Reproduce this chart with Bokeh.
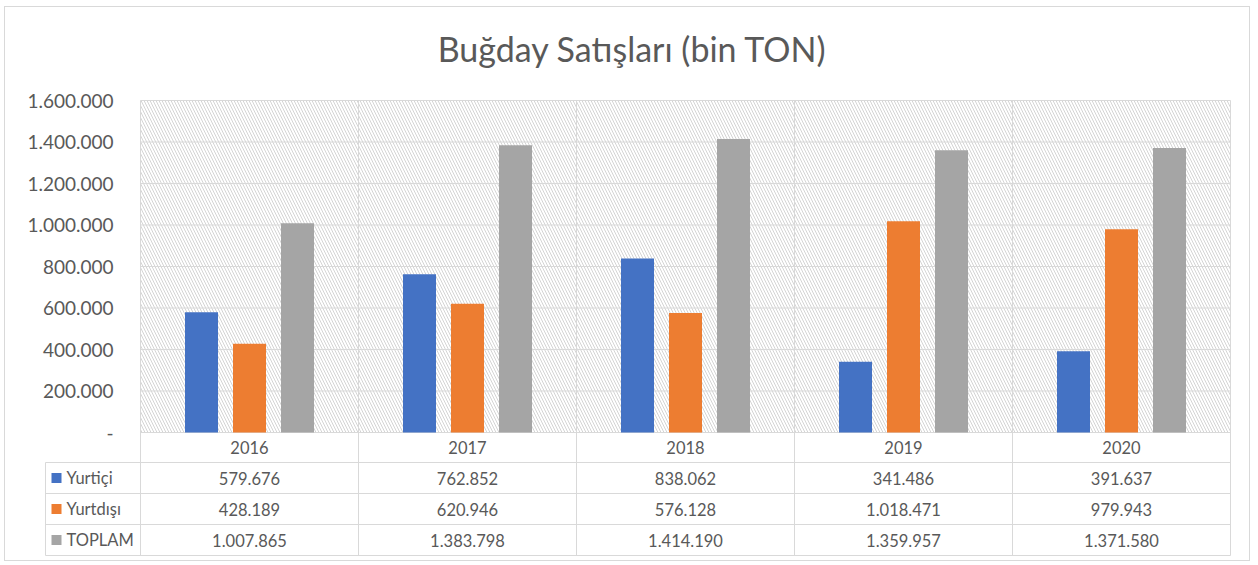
from bokeh.plotting import figure
from bokeh.models import Range1d, FixedTicker, BoxAnnotation
from bokeh.embed import file_html
from bokeh.resources import INLINE
from bokeh.core.properties import value

# ---------------- data ----------------
title_text = "Buğday Satışları (bin TON)"
years = ["2016", "2017", "2018", "2019", "2020"]
series_names = ["Yurtiçi", "Yurtdışı", "TOPLAM"]
yurtici = [579676, 762852, 838062, 341486, 391637]
yurtdisi = [428189, 620946, 576128, 1018471, 979943]
toplam = [1007865, 1383798, 1414190, 1359957, 1371580]
series_colors = ["#4472C4", "#ED7D31", "#A5A5A5"]
y_ticks = [0, 200000, 400000, 600000, 800000, 1000000, 1200000, 1400000, 1600000]


def tr(v):
    return f"{v:,}".replace(",", ".")


# ---------------- style / geometry (pixels) ----------------
FONT = "Lato"
TXT = "#595959"
LINE = "#d9d9d9"
PX = 218.0                    # pixels per category
PLOT_H = 332.0                # pixels for 0 .. 1.600.000
YPX = y_ticks[-1] / PLOT_H    # data units per pixel
TOP_PAD = 93                  # pixels above the 1.600.000 line (title area)
ROW_EDGES = [30, 61, 92, 123]  # table row edges, pixels below the zero line
BOT_PAD = 125                 # frame bottom, pixels below the zero line
LEFT_COL = 95                 # width of the table's label column, pixels
TABLE_FS = "16.5px"
n = len(years)
centers = [i + 0.5 for i in range(n)]
ymax = y_ticks[-1]

p = figure(width=1246, height=555,
           x_range=Range1d(-(LEFT_COL + 1) / PX, n + 1 / PX),
           y_range=Range1d(-BOT_PAD * YPX, ymax + TOP_PAD * YPX),
           output_backend="svg", toolbar_location=None, x_axis_location=None,
           min_border_left=39, min_border_right=20, min_border_top=0, min_border_bottom=5,
           styles={"border": "1px solid #d9d9d9", "margin-left": "4px", "margin-top": "6px"})
p.outline_line_color = None
p.background_fill_color = "white"
p.border_fill_color = "white"
p.grid.visible = False

# hatched plot area
hatch = BoxAnnotation(left=0, right=n, bottom=0, top=ymax,
                      fill_color=None, fill_alpha=0, line_color=None,
                      hatch_pattern="\\", hatch_color="#d4d4d4", hatch_weight=1,
                      hatch_scale=6, level="underlay")
p.add_layout(hatch)

# gridlines of the plot area
p.segment(x0=0, x1=n, y0=y_ticks, y1=y_ticks, line_color=LINE, line_width=1)
p.segment(x0=list(range(n + 1)), x1=list(range(n + 1)), y0=ymax,
          y1=-ROW_EDGES[-1] * YPX, line_color=LINE, line_width=1)

# bars
off = 48 / PX
bw = 33 / PX
for k, (vals, col) in enumerate(zip([yurtici, yurtdisi, toplam], series_colors)):
    p.vbar(x=[c + (k - 1) * off for c in centers], top=vals, width=bw,
           fill_color=col, line_color=None)

# title
p.text(x=[(632 - 140) / PX], y=[ymax + 52 * YPX], text=[title_text],
       text_align="center", text_baseline="middle",
       text_font=value(FONT), text_font_size="34px", text_color=TXT)

# y axis
p.yaxis.ticker = FixedTicker(ticks=y_ticks)
p.yaxis.major_label_overrides = {t: (tr(t) if t else "-") for t in y_ticks}
p.yaxis.axis_line_color = None
p.yaxis.major_tick_line_color = None
p.yaxis.minor_tick_line_color = None
p.yaxis.major_tick_out = 0
p.yaxis.major_tick_in = 0
p.yaxis.major_label_standoff = -(LEFT_COL - 26)
p.yaxis.major_label_text_font = FONT
p.yaxis.major_label_text_font_size = "19px"
p.yaxis.major_label_text_color = TXT

# ---------------- data table ----------------
x_left = -LEFT_COL / PX
p.segment(x0=x_left, x1=n, y0=[-e * YPX for e in ROW_EDGES],
          y1=[-e * YPX for e in ROW_EDGES], line_color=LINE, line_width=1)
p.segment(x0=[x_left], x1=[x_left], y0=[-ROW_EDGES[0] * YPX], y1=[-ROW_EDGES[-1] * YPX],
          line_color=LINE, line_width=1)

# category row
p.text(x=centers, y=[-(ROW_EDGES[0] / 2) * YPX] * n, text=years,
       text_align="center", text_baseline="middle",
       text_font=value(FONT), text_font_size=TABLE_FS, text_color=TXT)

row_y = [-(a + b) / 2 * YPX for a, b in zip(ROW_EDGES[:-1], ROW_EDGES[1:])]
xs, ys, txt = [], [], []
for vals, ry in zip([yurtici, yurtdisi, toplam], row_y):
    for c, v in zip(centers, vals):
        xs.append(c)
        ys.append(ry)
        txt.append(tr(v))
p.text(x=xs, y=ys, text=txt, text_align="center", text_baseline="middle",
       text_font=value(FONT), text_font_size=TABLE_FS, text_color=TXT)

p.scatter(x=[(56 - 140) / PX] * 3, y=row_y, marker="square", size=10,
          fill_color=series_colors, line_color=None)
p.text(x=[(66 - 140) / PX] * 3, y=row_y, text=series_names, text_align="left",
       text_baseline="middle", text_font=value(FONT), text_font_size=TABLE_FS,
       text_color=TXT)

open("out.html", "w").write(file_html(p, INLINE))
